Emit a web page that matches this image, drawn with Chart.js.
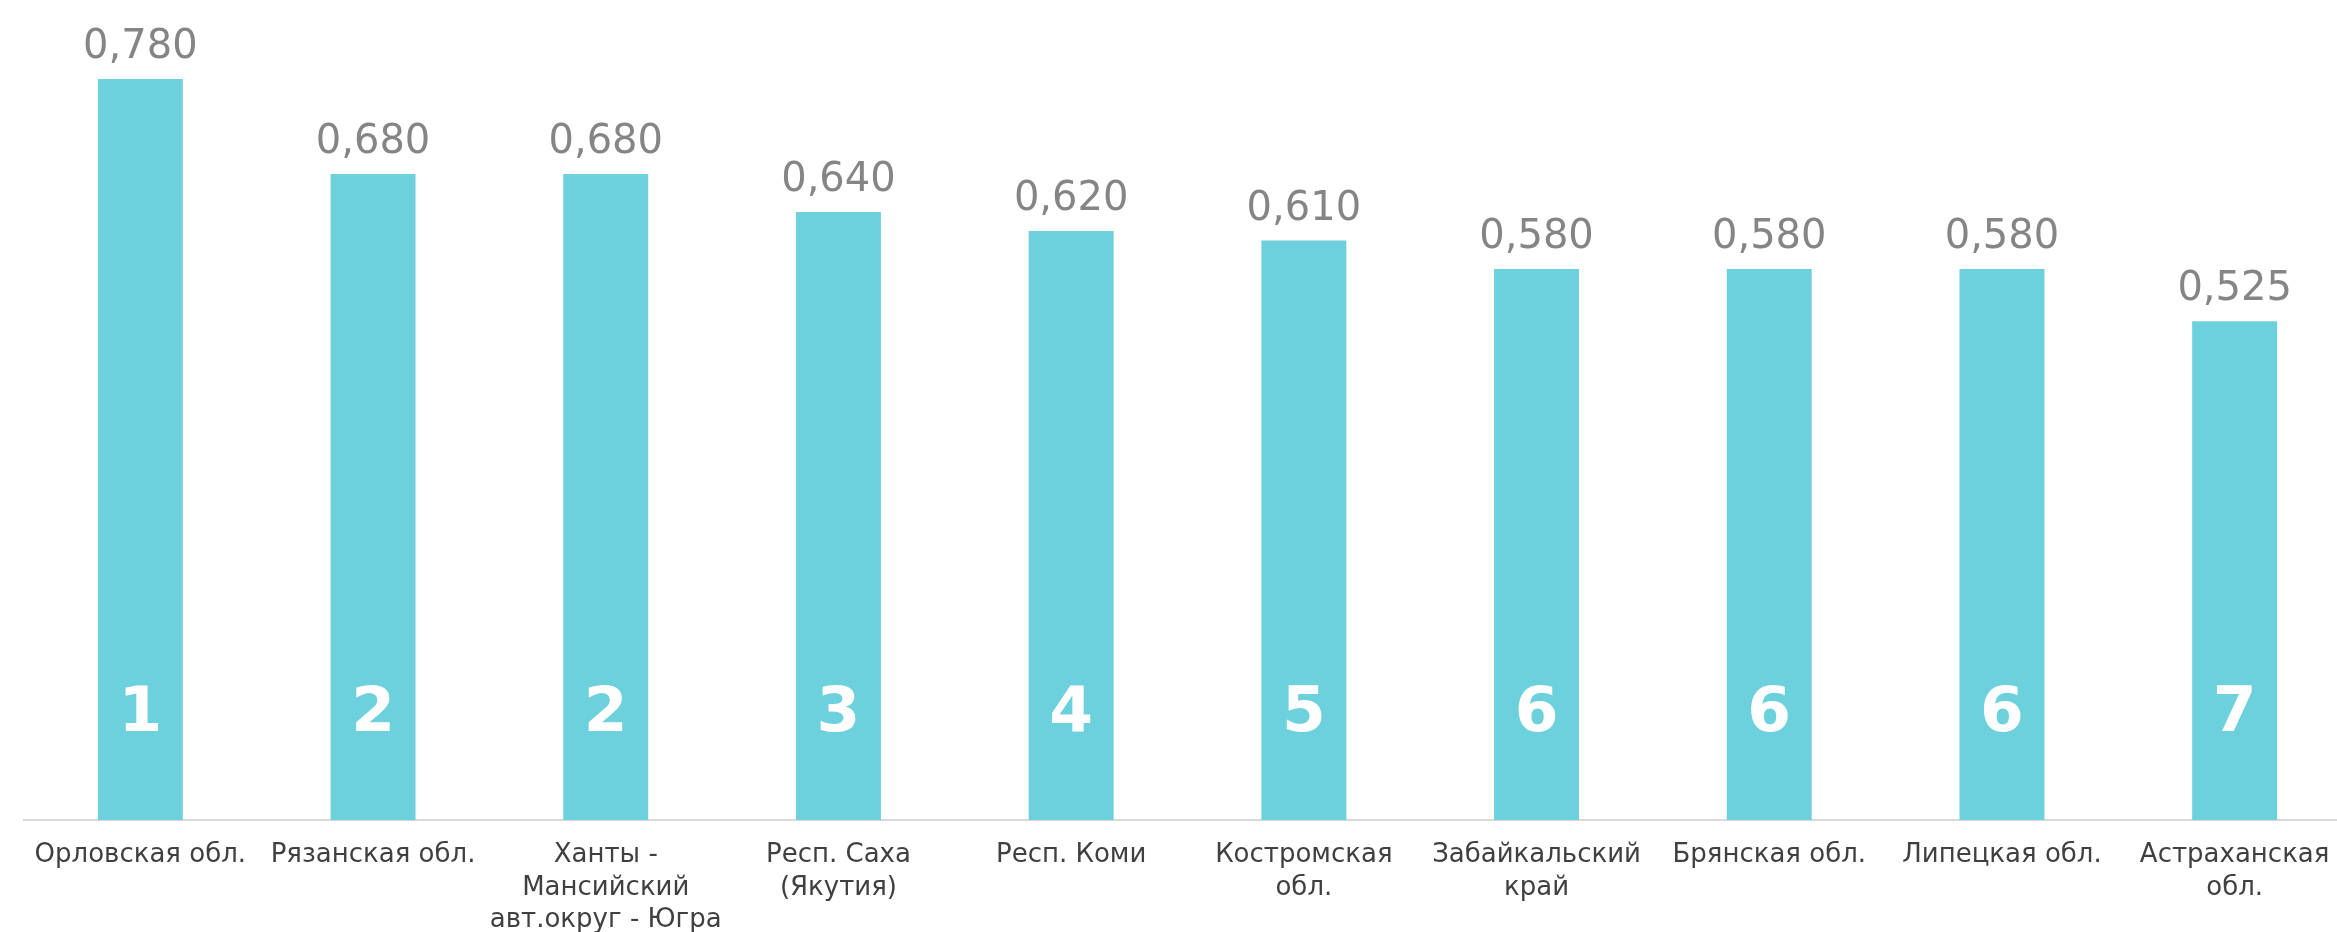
<!DOCTYPE html>
<html>
<head>
<meta charset="utf-8">
<script src="https://cdn.jsdelivr.net/npm/chart.js@4"></script>
<style>
  html, body { margin: 0; padding: 0; background: #ffffff; overflow: hidden; }
  #wrap { width: 2337px; height: 932px; overflow: hidden; position: relative; }
  canvas { display: block; }
</style>
</head>
<body>
<div id="wrap"><canvas id="c" width="2352" height="932"></canvas></div>
<script>
const categories = [
  "Орловская обл.",
  "Рязанская обл.",
  ["Ханты -", "Мансийский", "авт.округ - Югра"],
  ["Респ. Саха", "(Якутия)"],
  "Респ. Коми",
  ["Костромская", "обл."],
  ["Забайкальский", "край"],
  "Брянская обл.",
  "Липецкая обл.",
  ["Астраханская", "обл."]
];
const values = [0.780, 0.680, 0.680, 0.640, 0.620, 0.610, 0.580, 0.580, 0.580, 0.525];
const ranks = [1, 2, 2, 3, 4, 5, 6, 6, 6, 7];

const FONT = "'DejaVu Sans', sans-serif";

const labelPlugin = {
  id: 'barLabels',
  afterDatasetsDraw(chart) {
    const ctx = chart.ctx;
    const meta = chart.getDatasetMeta(0);
    const area = chart.chartArea;
    ctx.save();
    meta.data.forEach((bar, i) => {
      ctx.font = "40px " + FONT;
      ctx.fillStyle = "#858585";
      ctx.textAlign = "center";
      ctx.textBaseline = "alphabetic";
      ctx.fillText(values[i].toFixed(3).replace('.', ','), bar.x, bar.y - 21);
      ctx.font = "bold 63px " + FONT;
      ctx.fillStyle = "#ffffff";
      ctx.fillText(String(ranks[i]), bar.x, area.bottom - 89);
    });
    ctx.restore();
  }
};

new Chart(document.getElementById('c'), {
  type: 'bar',
  data: {
    labels: categories,
    datasets: [{
      data: values,
      backgroundColor: '#6CD1DC',
      borderWidth: 0,
      categoryPercentage: 1.0,
      barPercentage: 0.365
    }]
  },
  options: {
    responsive: false,
    devicePixelRatio: 1,
    animation: false,
    layout: { padding: { left: 24, right: 1, top: 60, bottom: 0 } },
    plugins: {
      legend: { display: false },
      tooltip: { enabled: false },
      title: { display: false }
    },
    scales: {
      x: {
        grid: { display: false, drawTicks: false },
        border: { display: true, color: '#d9d9d9', width: 2 },
        ticks: {
          color: '#404040',
          font: { family: FONT, size: 26, lineHeight: 1.25 },
          padding: 19,
          maxRotation: 0,
          minRotation: 0,
          autoSkip: false
        },
        afterFit(scale) { scale.height = 112; }
      },
      y: {
        display: false,
        min: 0,
        max: 0.8
      }
    }
  },
  plugins: [labelPlugin]
});
</script>
</body>
</html>
